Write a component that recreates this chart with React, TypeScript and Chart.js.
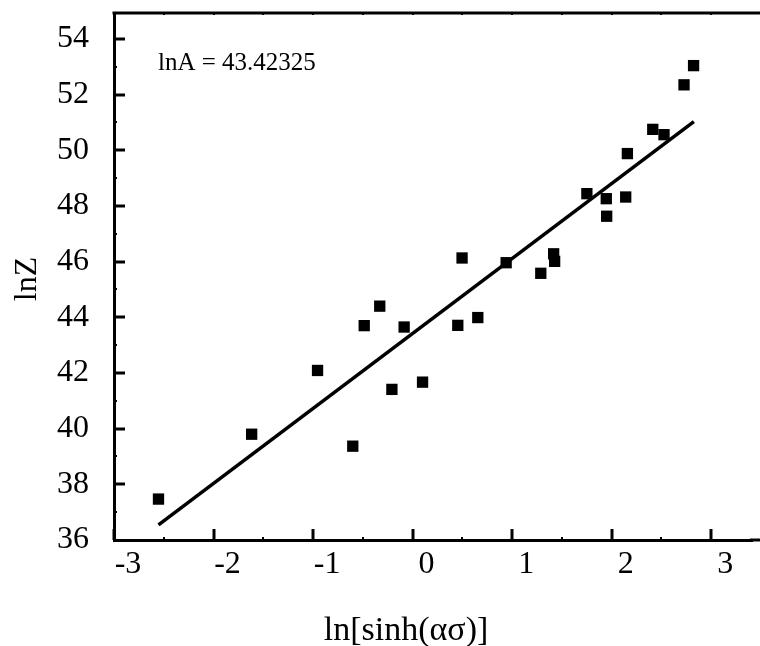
import React, { useEffect, useRef } from "react";
import { Chart, registerables } from "chart.js";

Chart.register(...registerables);

// measured points
const lnSinh = [-2.553, -1.617, -0.955, -0.601, -0.486, -0.33, -0.208, -0.085, 0.1, 0.454, 0.497, 0.655, 0.94, 1.288, 1.417, 1.427, 1.751, 1.946, 1.95, 2.141, 2.158, 2.413, 2.526, 2.727, 2.823];
const lnZ = [37.47, 39.8, 42.09, 39.37, 43.7, 44.4, 41.41, 43.65, 41.67, 43.71, 46.13, 43.99, 45.96, 45.58, 46.28, 46.01, 48.44, 48.26, 47.63, 48.32, 49.88, 50.75, 50.56, 52.35, 53.04];

// fitted line end points
const fitX = [-2.553, 2.826];
const fitY = [36.54, 51.03];

const xMajorTicks = [-3, -2, -1, 0, 1, 2, 3];
const xMinorTicks = [-2.5, -1.5, -0.5, 0.5, 1.5, 2.5];
const yMajorTicks = [36, 38, 40, 42, 44, 46, 48, 50, 52, 54];
const yMinorTicks = [37, 39, 41, 43, 45, 47, 49, 51, 53];

const annotationText = "lnA = 43.42325";
const xTitle = "ln[sinh(ασ)]";
const yTitle = "lnZ";

const SERIF = "'Liberation Serif', 'Times New Roman', serif";

const framePlugin = {
  id: "frame",
  afterDraw(chart: any) {
    const { ctx, chartArea } = chart;
    const xs = chart.scales.x;
    const ys = chart.scales.y;
    const L = chartArea.left;
    const R = chart.width;
    const T = chartArea.top;
    const B = chartArea.bottom;
    ctx.save();
    ctx.strokeStyle = "#000";
    ctx.lineCap = "butt";
    // top frame line
    ctx.lineWidth = 3;
    ctx.beginPath();
    ctx.moveTo(L - 1.5, T);
    ctx.lineTo(R, T);
    ctx.stroke();
    // make sure bottom axis reaches the canvas edge
    ctx.beginPath();
    ctx.moveTo(chartArea.right - 2, B);
    ctx.lineTo(R, B);
    ctx.stroke();

    const seg = (x1: number, y1: number, x2: number, y2: number, w: number) => {
      ctx.lineWidth = w;
      ctx.beginPath();
      ctx.moveTo(x1, y1);
      ctx.lineTo(x2, y2);
      ctx.stroke();
    };
    for (const v of xMajorTicks) {
      const px = Math.round(xs.getPixelForValue(v));
      seg(px, B, px, B - 11, 3);
      seg(px, T, px, T + 2, 2);
    }
    for (const v of xMinorTicks) {
      const px = Math.round(xs.getPixelForValue(v));
      seg(px, B, px, B - 3, 2);
      seg(px, T, px, T + 2, 2);
    }
    for (const v of yMajorTicks) {
      const py = Math.round(ys.getPixelForValue(v));
      if (py > B - 1) continue;
      seg(L, py, L + 11, py, 3);
    }
    for (const v of yMinorTicks) {
      const py = Math.round(ys.getPixelForValue(v));
      seg(L, py, L + 3, py, 2);
    }

    ctx.fillStyle = "#000";
    // annotation
    ctx.font = `25px ${SERIF}`;
    ctx.textAlign = "left";
    ctx.textBaseline = "alphabetic";
    ctx.fillText(annotationText, 158, 70);

    // x title
    ctx.font = `34px ${SERIF}`;
    ctx.textAlign = "center";
    ctx.fillText(xTitle, 406, 640);

    // y title
    ctx.font = `32px ${SERIF}`;
    ctx.translate(28, 279);
    ctx.rotate(-Math.PI / 2);
    ctx.textBaseline = "middle";
    ctx.fillText(yTitle, 0, 0);
    ctx.restore();
  },
};

export default function App() {
  const ref = useRef<HTMLCanvasElement | null>(null);
  useEffect(() => {
    if (!ref.current) return;
    const chart = new Chart(ref.current, {
      type: "scatter",
      data: {
        datasets: [
          {
            label: "fit",
            data: fitX.map((x, i) => ({ x, y: fitY[i] })),
            showLine: true,
            borderColor: "#000",
            borderWidth: 3.5,
            pointRadius: 0,
            fill: false,
          } as any,
          {
            label: "lnZ",
            data: lnSinh.map((x, i) => ({ x, y: lnZ[i] })),
            pointStyle: "rect",
            pointRadius: 8,
            pointBackgroundColor: "#000",
            pointBorderColor: "#000",
            pointBorderWidth: 0,
            showLine: false,
          } as any,
        ],
      },
      options: {
        responsive: false,
        animation: false,
        layout: { padding: { top: 13, right: 0, left: 0, bottom: 0 } },
        plugins: {
          legend: { display: false },
          tooltip: { enabled: false },
        },
        scales: {
          x: {
            type: "linear",
            min: -3,
            max: 3.41,
            grid: { display: false },
            border: { display: true, color: "#000", width: 3 },
            afterBuildTicks: (s: any) => {
              s.ticks = xMajorTicks.map((v) => ({ value: v }));
            },
            afterFit: (s: any) => {
              s.height = 106;
              s.paddingLeft = 0;
              s.paddingRight = 0;
            },
            ticks: {
              color: "#000",
              padding: -3,
              labelOffset: 14,
              maxRotation: 0,
              autoSkip: false,
              font: { family: SERIF, size: 32 },
              callback: (v: any) => String(v),
            },
          },
          y: {
            type: "linear",
            min: 36,
            max: 54.93,
            grid: { display: false },
            border: { display: true, color: "#000", width: 3 },
            afterBuildTicks: (s: any) => {
              s.ticks = yMajorTicks.map((v) => ({ value: v }));
            },
            afterFit: (s: any) => {
              s.width = 114;
              s.paddingTop = 0;
              s.paddingBottom = 0;
            },
            ticks: {
              color: "#000",
              padding: 17,
              autoSkip: false,
              font: { family: SERIF, size: 32 },
              callback: (v: any) => String(v),
            },
          },
        },
      },
      plugins: [framePlugin],
    });
    return () => chart.destroy();
  }, []);
  return (
    <div style={{ position: "absolute", left: 0, top: 0, width: 760, height: 646, background: "#fff" }}>
      <canvas ref={ref} width={760} height={646} />
    </div>
  );
}
